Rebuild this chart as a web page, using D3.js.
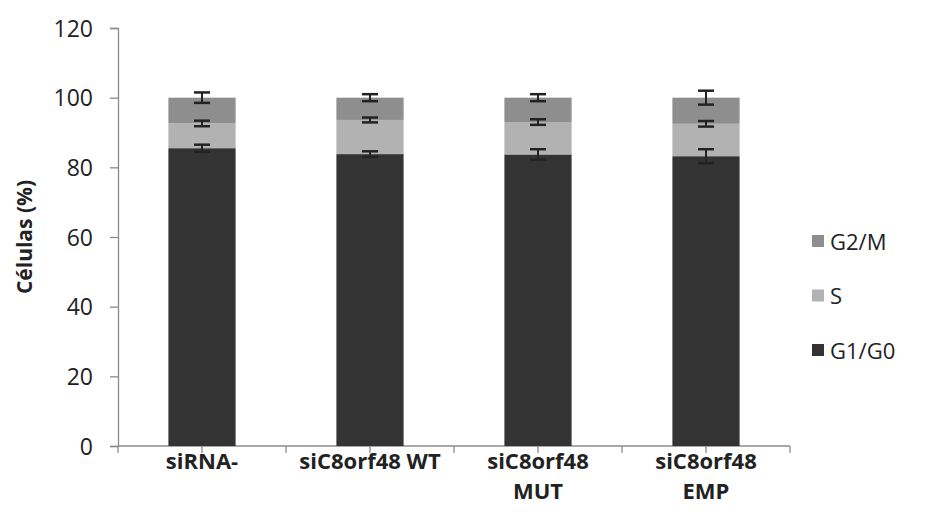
<!DOCTYPE html>
<html><head><meta charset="utf-8">
<script src="https://cdn.jsdelivr.net/npm/d3@7"></script>
<style>body{margin:0;background:#fff}svg{display:block}text{font-family:"Open Sans","Liberation Sans",sans-serif;fill:#222}</style>
</head><body><svg id="c" width="942" height="522"></svg>
<script>
const categories = [["siRNA-"], ["siC8orf48 WT"], ["siC8orf48", "MUT"], ["siC8orf48", "EMP"]];
const seriesNames = ["G1/G0", "S", "G2/M"];
const g1g0 = [85.5, 83.8, 83.7, 83.2];
const sPhase = [7.1, 9.8, 9.3, 9.3];
const g2m = [7.4, 6.4, 7.0, 7.5];
const errG1 = [1.0, 0.8, 1.5, 2.0];
const errS = [0.8, 0.7, 0.8, 0.8];
const errG2 = [1.5, 1.0, 1.0, 2.0];
const yTicks = [0, 20, 40, 60, 80, 100, 120];
const colors = {"G1/G0": "#333333", "S": "#b2b2b2", "G2/M": "#8e8e8e"};

const svg = d3.select("#c");
const x0 = 118, x1 = 790, yTop = 28, yBot = 446;
const x = d3.scaleBand().domain(d3.range(categories.length)).range([x0, x1]).paddingInner(0.6).paddingOuter(0.3);
const xb = d3.scaleBand().domain(d3.range(categories.length)).range([x0, x1]);
const y = d3.scaleLinear().domain([0, 120]).range([yBot, yTop]);

// y axis
const ya = svg.append("g").attr("transform", `translate(${x0},0)`)
  .call(d3.axisLeft(y).tickValues(yTicks).tickSize(8).tickPadding(17));
ya.select(".domain").attr("stroke", "#8a8a8a").attr("stroke-width", 1.3);
ya.selectAll(".tick line").attr("stroke", "#8a8a8a").attr("stroke-width", 1.3);
ya.selectAll(".tick text").style("font-size", "23px").attr("fill", "#222").attr("dy", "0.35em");

// x axis with ticks at boundaries and centers
svg.append("line").attr("x1", x0).attr("x2", x1).attr("y1", yBot).attr("y2", yBot).attr("stroke", "#8a8a8a").attr("stroke-width", 1.3);
const tickXs = [];
d3.range(categories.length).forEach(i => { tickXs.push(xb(i)); tickXs.push(xb(i) + xb.bandwidth() / 2); });
tickXs.push(x1);
svg.selectAll(".xt").data(tickXs).join("line").attr("x1", d => d).attr("x2", d => d)
  .attr("y1", yBot).attr("y2", yBot + 7).attr("stroke", "#8a8a8a").attr("stroke-width", 1.3);

// stacked data
const rows = categories.map((c, i) => ({i, "G1/G0": g1g0[i], "S": sPhase[i], "G2/M": g2m[i]}));
const stack = d3.stack().keys(seriesNames)(rows);
const errs = {"G1/G0": errG1, "S": errS, "G2/M": errG2};

svg.append("g").selectAll("g").data(stack).join("g").attr("fill", d => colors[d.key])
  .selectAll("rect").data(d => d).join("rect")
  .attr("x", d => x(d.data.i)).attr("width", x.bandwidth())
  .attr("y", d => y(d[1])).attr("height", d => y(d[0]) - y(d[1]));

// error bars
const eg = svg.append("g").attr("stroke", "#222").attr("stroke-width", 2);
stack.forEach(s => {
  s.forEach(d => {
    const cx = x(d.data.i) + x.bandwidth() / 2;
    const e = errs[s.key][d.data.i];
    const yh = y(d[1] + e), yl = y(d[1] - e);
    eg.append("line").attr("x1", cx).attr("x2", cx).attr("y1", yh).attr("y2", yl);
    eg.append("line").attr("x1", cx - 8).attr("x2", cx + 8).attr("y1", yh).attr("y2", yh).attr("stroke-width", 2.5);
    eg.append("line").attr("x1", cx - 8).attr("x2", cx + 8).attr("y1", yl).attr("y2", yl).attr("stroke-width", 2.5);
  });
});

// x labels
categories.forEach((lines, i) => {
  const t = svg.append("text").attr("text-anchor", "middle").style("font-size", "22px").style("font-weight", "bold")
    .attr("x", xb(i) + xb.bandwidth() / 2).attr("y", 469);
  lines.forEach((l, k) => t.append("tspan").attr("x", xb(i) + xb.bandwidth() / 2).attr("dy", k === 0 ? 0 : 30).text(l));
});

// y label
svg.append("text").attr("transform", "translate(32,237) rotate(-90)").attr("text-anchor", "middle")
  .style("font-size", "21px").style("font-weight", "bold").text("Células (%)");

// legend
const legendOrder = ["G2/M", "S", "G1/G0"];
const legendY = d3.scalePoint().domain(legendOrder).range([242, 351]);
const lg = svg.append("g");
legendOrder.forEach(k => {
  lg.append("rect").attr("x", 812).attr("y", legendY(k) - 7).attr("width", 12).attr("height", 12).attr("fill", colors[k]);
  lg.append("text").attr("x", 830).attr("y", legendY(k)).attr("dy", "0.36em").style("font-size", "22px").text(k);
});
</script></body></html>
